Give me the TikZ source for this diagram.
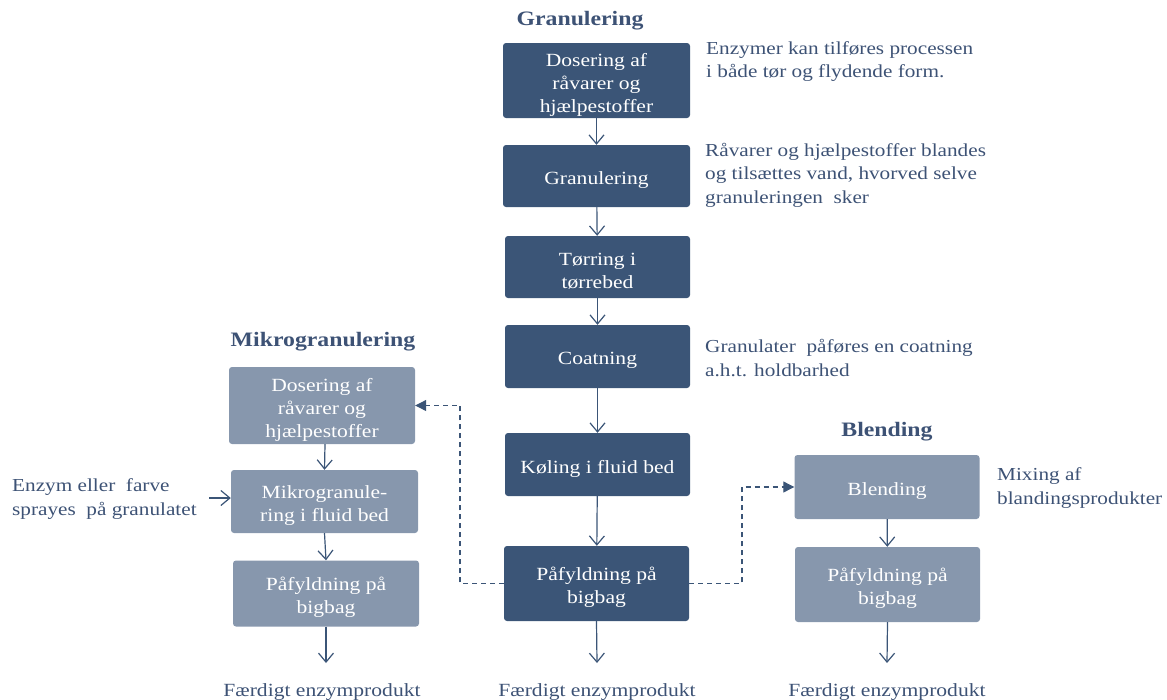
\documentclass[tikz,border=0pt]{standalone}
\usepackage{fontspec}
\setmainfont{Liberation Serif}[FakeStretch=1.16]
\usetikzlibrary{arrows.meta}
\definecolor{darkbox}{HTML}{3B5577}
\definecolor{lightbox}{HTML}{8797AD}
\definecolor{txt}{HTML}{3D5275}
\newcommand\toppad{\rule{0pt}{21pt}}
\tikzset{
  boxbase/.style={rounded corners=3pt, text=white, align=center, inner sep=2pt,
    font=\fontsize{18.6}{23}\selectfont},
  darkstep/.style={boxbase, fill=darkbox},
  lightstep/.style={boxbase, fill=lightbox},
  title/.style={text=txt, font=\bfseries\fontsize{20.5}{24}\selectfont},
  note/.style={text=txt, align=left, anchor=west, inner sep=0pt,
    font=\fontsize{18.3}{23.5}\selectfont},
  outtext/.style={text=txt, inner sep=0pt, font=\fontsize{18.6}{24}\selectfont},
  flow/.style={draw=darkbox, line width=1.2pt, -{Straight Barb[length=9pt,width=15pt,line width=1.2pt]}},
  dashflow/.style={draw=darkbox, line width=1.1pt, dash pattern=on 5pt off 4pt,
    -{Triangle[length=11pt,width=11pt]}}
}
\begin{document}
\begin{tikzpicture}[x=1pt,y=-1pt]
\useasboundingbox (0,0) rectangle (1167,699);
% titles
\node[title] (t1) at (580,21) {Granulering};
\node[title] (t2) at (323,342) {Mikrogranulering};
\node[title] (t3) at (887,432) {Blending};
% main column
\node[darkstep, minimum width=187pt, minimum height=75pt] (b1) at (596.5,80.5) {\toppad Dosering af\\råvarer og\\hjælpestoffer};
\node[darkstep, minimum width=187pt, minimum height=62pt] (b2) at (596.5,176) {\toppad Granulering};
\node[darkstep, minimum width=185pt, minimum height=62pt] (b3) at (597.5,267) {\toppad Tørring i\\tørrebed};
\node[darkstep, minimum width=185pt, minimum height=63pt] (b4) at (597.5,356.5) {\toppad Coatning};
\node[darkstep, minimum width=185pt, minimum height=63pt] (b5) at (597.5,464.5) {\toppad Køling i fluid bed};
\node[darkstep, minimum width=185pt, minimum height=75pt] (b6) at (596.5,583.5) {\toppad Påfyldning på\\bigbag};
% left column
\node[lightstep, minimum width=186pt, minimum height=77pt] (l1) at (322,405.5) {\toppad Dosering af\\råvarer og\\hjælpestoffer};
\node[lightstep, minimum width=187pt, minimum height=63pt] (l2) at (324.5,501.5) {\toppad Mikrogranule-\\ring i fluid bed};
\node[lightstep, minimum width=186pt, minimum height=66pt] (l3) at (326,593.5) {\toppad Påfyldning på\\bigbag};
% right column
\node[lightstep, minimum width=185pt, minimum height=64pt] (r1) at (887,487) {\toppad Blending};
\node[lightstep, minimum width=185pt, minimum height=75pt] (r2) at (887.5,584.5) {\toppad Påfyldning på\\bigbag};
% notes
\node[note] (n1) at (706,61.5) {Enzymer kan tilføres processen\\i både tør og flydende form.};
\node[note] (n2) at (705,175) {Råvarer og hjælpestoffer blandes\\og tilsættes vand, hvorved selve\\granuleringen\ \ sker};
\node[note] (n3) at (705,358) {Granulater\ \ påføres en coatning\\a.h.t. holdbarhed};
\node[note] (n4) at (12,499) {Enzym eller\ \ farve\\sprayes\ \ på granulatet};
\node[note] (n5) at (997,488) {Mixing af\\blandingsprodukter};
% outputs
\node[outtext] (o1) at (322,692) {Færdigt enzymprodukt};
\node[outtext] (o2) at (597,692) {Færdigt enzymprodukt};
\node[outtext] (o3) at (887,692) {Færdigt enzymprodukt};
\coordinate (e1) at (326,663);
\coordinate (e2) at (597,663);
\coordinate (e3) at (887,663);
\coordinate (in) at (209,498);
\coordinate (dl) at (460,583.5);
\coordinate (dr) at (742,583.5);
% flows
\draw[flow] (b1) -- (b2);
\draw[flow] (b2) -- (b3);
\draw[flow] (b3) -- (b4);
\draw[flow] (b4) -- (b5);
\draw[flow] (b5) -- (b6);
\draw[flow] (b6.south) -- (e2);
\draw[flow] ([xshift=3pt]l1.south) -- (l2.south |- l2.north);
\draw[flow] (l2.south) -- (l3.north);
\draw[flow] (l3.south) -- (e1);
\draw[flow] (r1) -- (r2);
\draw[flow] (r2.south) -- (e3);
\draw[flow] (in) -- (in -| l2.west);
\draw[dashflow] (b6.west) -- (dl) |- (l1.east);
\draw[dashflow] (b6.east) -- (dr) |- (r1.west);
\end{tikzpicture}
\end{document}
